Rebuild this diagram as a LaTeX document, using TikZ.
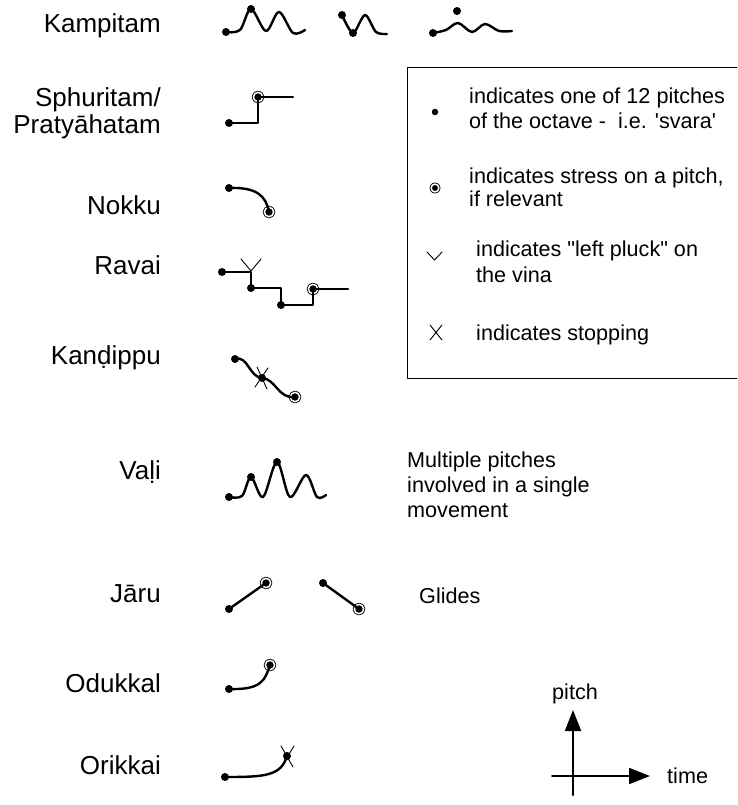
\documentclass[tikz,border=0pt]{standalone}
\usepackage{fontspec}
\setmainfont{Liberation Sans}[Ligatures=TeXOff]
\usetikzlibrary{arrows.meta}

\begin{document}
\begin{tikzpicture}[x=1pt,y=-1pt,line cap=round,line join=round]
\tikzset{
  lbl/.style={font=\fontsize{26}{27}\selectfont,anchor=base east,inner sep=0pt},
  txt/.style={font=\fontsize{21.6}{25}\selectfont,anchor=base west,inner sep=0pt},
  pd/.style={circle,fill=black,inner sep=0pt,minimum size=8pt},
  sd/.style={circle,fill=black,draw=black,line width=0.9pt,double=white,
             double distance=1.5pt,inner sep=0pt,minimum size=9.3pt},
  tune/.style={line width=2.4pt},
  hair/.style={line width=0.9pt},
  axis/.style={line width=2pt,-{Triangle[length=21pt,width=16pt]}},
}
\useasboundingbox (0,0) rectangle (737,805);

% ---- names of the ornaments
\node[lbl] (lKampitam) at (161,33) {Kampitam};
\node[lbl] (lSphuritam) at (161,107) {Sphuritam/};
\node[lbl] (lPratya) at (161,134) {Pratyāhatam};
\node[lbl] (lNokku) at (161,214) {Nokku};
\node[lbl] (lRavai) at (161,274) {Ravai};
\node[lbl] (lKandippu) at (161,364) {Kanḍippu};
\node[lbl] (lVali) at (161,479) {Vaḷi};
\node[lbl] (lJaru) at (161,602) {Jāru};
\node[lbl] (lOdukkal) at (161,692) {Odukkal};
\node[lbl] (lOrikkai) at (161,774) {Orikkai};

% ---- Kampitam: three oscillations
\node[pd] (k1a) at (226,32) {};
\node[pd] (k1b) at (251,9) {};
\draw[tune] plot[smooth,tension=0.55] coordinates
  {(k1a.center) (240,30) (k1b.center) (266,31) (279,12) (293,33) (305,30)};
\node[pd] (k2a) at (342,15) {};
\node[pd] (k2b) at (353,33) {};
\draw[tune] plot[smooth,tension=0.5] coordinates
  {(k2a.center) (k2b.center) (365,15) (376,32) (387,34)};
\node[pd] (k3a) at (433,33) {};
\node[pd] (k3b) at (457,11) {};
\draw[tune] plot[smooth,tension=0.55] coordinates
  {(k3a.center) (446,30) (458,23) (472,32) (485,24) (499,31) (512,31)};

% ---- Sphuritam / Pratyahatam
\node[pd] (s1) at (229,123) {};
\node[sd] (s2) at (258,97) {};
\coordinate (s3) at (293,97);
\draw[tune] (s1.center) -| (s2.center) -- (s3);

% ---- Nokku
\node[pd] (n1) at (229,188) {};
\node[sd] (n2) at (269,212) {};
\draw[tune] (n1.center) .. controls (257,187) and (266,196) .. (n2.center);

% ---- Ravai
\node[pd] (r1) at (222,272) {};
\node[pd] (r2) at (251,288) {};
\node[pd] (r3) at (281,305) {};
\node[sd] (r4) at (313,289) {};
\coordinate (r5) at (348,289);
\draw[tune] (r1.center) -| (r2.center) -| (r3.center) -| (r4.center) -- (r5);
\coordinate (rv) at (251,271);
\draw[hair] (241,259) -- (rv) -- (261,259);

% ---- Kandippu
\node[pd] (d1) at (235,359) {};
\node[pd] (d2) at (262,378) {};
\node[sd] (d3) at (295,397) {};
\draw[tune] (d1.center) .. controls (248,355) and (249,377) .. (d2.center)
            .. controls (276,379) and (278,399) .. (d3.center);
\draw[hair] (257,367) -- (267,389) (268,368) -- (255,387);

% ---- Vali
\node[pd] (v1) at (229,497) {};
\node[pd] (v2) at (251,477) {};
\node[pd] (v3) at (277,462) {};
\draw[tune] plot[smooth,tension=0.55] coordinates
  {(v1.center) (242,496) (v2.center) (263,497) (v3.center) (290,497) (306,475) (317,497) (326,495)};

% ---- Jaru: rising and falling glides
\node[pd] (j1) at (229,609) {};
\node[sd] (j2) at (266,583) {};
\draw[tune] (j1.center) -- (j2.center);
\node[pd] (j3) at (323,583) {};
\node[sd] (j4) at (359,609) {};
\draw[tune] (j3.center) -- (j4.center);

% ---- Odukkal
\node[pd] (o1) at (229,689) {};
\node[sd] (o2) at (270,665) {};
\draw[tune] (o1.center) .. controls (262,690) and (265,680) .. (o2.center);

% ---- Orikkai
\node[pd] (q1) at (225,777) {};
\node[pd] (q2) at (287,756) {};
\draw[tune] (q1.center) .. controls (265,777) and (281,776) .. (q2.center);
\draw[hair] (281,746) -- (293,767) (294,746) -- (281,767);

% ---- key to the symbols
\draw[hair] (737,67) -- (407,67) -- (407,378) -- (737,378);
\node[pd,minimum size=6.5pt] (kd) at (435,112) {};
\node[txt] (t1a) at (469,104) {indicates one of 12 pitches};
\node[txt] (t1b) at (469,129) {of the octave -\ \ i.e. 'svara'};
\node[sd,minimum size=7.8pt] (ks) at (435,188) {};
\node[txt] (t2a) at (469,183) {indicates stress on a pitch,};
\node[txt] (t2b) at (469,207) {if relevant};
\coordinate (kv) at (434.5,260);
\draw[hair] (427,252) -- (kv) -- (442,252);
\node[txt] (t3a) at (476,256) {indicates "left pluck" on};
\node[txt] (t3b) at (476,282) {the vina};
\draw[hair] (430,325) -- (442,340) (442,325) -- (430,340);
\node[txt] (t4) at (476,340) {indicates stopping};

% ---- remarks
\node[txt] (m1) at (407,467) {Multiple pitches};
\node[txt] (m2) at (407,492) {involved in a single};
\node[txt] (m3) at (407,517) {movement};
\node[txt] (gl) at (419,603) {Glides};

% ---- pitch / time axes
\coordinate (pbot) at (573,795);
\coordinate (ptop) at (573,710);
\coordinate (tl) at (552,776);
\coordinate (tr) at (650,776);
\draw[axis] (pbot) -- (ptop);
\draw[axis] (tl) -- (tr);
\node[txt] (ap) at (552,699) {pitch};
\node[txt] (at) at (667,783) {time};
\end{tikzpicture}
\end{document}
